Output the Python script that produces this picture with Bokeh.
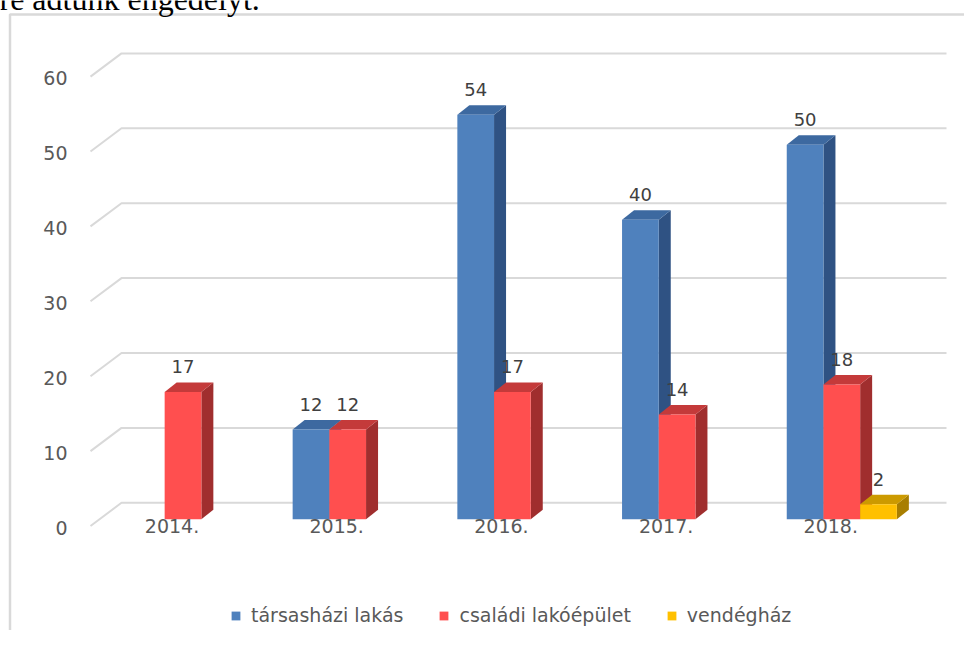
from bokeh.plotting import figure
from bokeh.models import (LinearAxis, FixedTicker, Range1d, Legend, LegendItem,
                          ColumnDataSource)
from bokeh.core.properties import value
from bokeh.embed import file_html
from bokeh.resources import INLINE

# ---------------- data ----------------
years = ["2014.", "2015.", "2016.", "2017.", "2018."]
series_names = ["társasházi lakás", "családi lakóépület", "vendégház"]
tarsashazi = [0, 12, 54, 40, 50]
csaladi = [17, 12, 17, 14, 18]
vendeghaz = [0, 0, 0, 0, 2]
y_ticks = [0, 10, 20, 30, 40, 50, 60]
heading = "re adtunk engedélyt."

# ---------------- geometry (pixels) ----------------
W, H = 964, 630
PX_X = 164.7      # px per category step
PX_Y = 7.49       # px per value unit
X0 = 171.5        # canvas x of first category
Y0 = 518.8        # canvas y of value 0 (bar plane)


def cx2d(cx):
    return (cx - X0) / PX_X


def cy2d(cy):
    return (Y0 - cy) / PX_Y


x_range = Range1d(cx2d(0), cx2d(W))
y_range = Range1d(cy2d(H), cy2d(0))

p = figure(width=W, height=H, x_range=x_range, y_range=y_range,
           x_axis_type=None, y_axis_type=None, toolbar_location=None,
           output_backend="svg", min_border=0, outline_line_color=None,
           background_fill_color="white", border_fill_color="white")

# outer frame of the chart object (left and top edges)
xl = cx2d(9.5)
yt = cy2d(14)
p.line([xl, xl, x_range.end + 1], [y_range.start - 1, yt, yt],
       line_color="#d9d9d9", line_width=2.5)

# clipped heading text of the document
p.text(x=[cx2d(-1)], y=[cy2d(-2)], text=[heading],
       text_font=value("Liberation Serif"), text_font_size="32px",
       text_color="#000000", text_baseline="alphabetic", text_align="left")

# 3D gridlines: diagonal on the side wall + horizontal on back wall
gx_front = cx2d(90)
gx_back = cx2d(121)
gx_end = cx2d(946)
front_off = -6.7 / PX_Y
back_off = 16.5 / PX_Y
p.multi_line(xs=[[gx_front, gx_back, gx_end] for t in y_ticks],
             ys=[[t + front_off, t + back_off, t + back_off] for t in y_ticks],
             line_color="#d9d9d9", line_width=2)

# ---------------- 3D bars ----------------
bar_w = 36.7 / PX_X
ddx = 12 / PX_X
ddy = 9.5 / PX_Y
offsets = [-25.7 / PX_X, 11 / PX_X, 47.7 / PX_X]
front_cols = ["#4F81BD", "#FF4F4F", "#FFC000"]
top_cols = ["#3D69A0", "#C43A3A", "#CC9A00"]
side_cols = ["#2F5283", "#A02E2E", "#A87E00"]
series_vals = [tarsashazi, csaladi, vendeghaz]

front_renderers = []
for s, vals in enumerate(series_vals):
    xc, tops, labels = [], [], []
    side_xs, side_ys, top_xs, top_ys = [], [], [], []
    for i, v in enumerate(vals):
        if v <= 0:
            continue
        c = i + offsets[s]
        L, R = c - bar_w / 2, c + bar_w / 2
        xc.append(c)
        tops.append(v)
        labels.append(str(v))
        side_xs.append([R, R + ddx, R + ddx, R])
        side_ys.append([0, ddy, v + ddy, v])
        top_xs.append([L, R, R + ddx, L + ddx])
        top_ys.append([v, v, v + ddy, v + ddy])
    p.patches(side_xs, side_ys, fill_color=side_cols[s], line_color=None)
    p.patches(top_xs, top_ys, fill_color=top_cols[s], line_color=None)
    src = ColumnDataSource(dict(x=xc, top=tops, lab=labels))
    r = p.vbar(x="x", top="top", bottom=0, width=bar_w, source=src,
               fill_color=front_cols[s], line_color=None)
    front_renderers.append(r)
    p.text(x="x", y="top", text="lab", source=src, y_offset=-25,
           text_align="center", text_baseline="middle",
           text_font=value("DejaVu Sans"), text_font_size="18px",
           text_color="#404040")

# ---------------- axes ----------------
p.extra_y_ranges = {"ylab": Range1d(y_range.start + 8.5 / PX_Y,
                                    y_range.end + 8.5 / PX_Y)}
yaxis = LinearAxis(y_range_name="ylab", fixed_location=cx2d(70),
                   ticker=FixedTicker(ticks=y_ticks),
                   axis_line_color=None, major_tick_line_color=None,
                   minor_tick_line_color=None, major_tick_out=0,
                   major_tick_in=0, major_label_standoff=3,
                   major_label_text_font="DejaVu Sans",
                   major_label_text_font_size="19px",
                   major_label_text_color="#595959")
p.add_layout(yaxis, "left")

xaxis = LinearAxis(fixed_location=cy2d(518),
                   ticker=FixedTicker(ticks=list(range(len(years)))),
                   major_label_overrides={i: y for i, y in enumerate(years)},
                   axis_line_color=None, major_tick_line_color=None,
                   minor_tick_line_color=None, major_tick_out=0,
                   major_tick_in=0, major_label_standoff=0,
                   major_label_text_font="DejaVu Sans",
                   major_label_text_font_size="19px",
                   major_label_text_color="#595959")
p.add_layout(xaxis, "below")

# ---------------- legend ----------------
legend = Legend(items=[LegendItem(label=n, renderers=[r])
                       for n, r in zip(series_names, front_renderers)],
                orientation="horizontal", location=(230, 4),
                glyph_width=11, glyph_height=11, label_standoff=10,
                spacing=35, padding=0, margin=0, border_line_color=None,
                background_fill_alpha=0, label_text_font="DejaVu Sans",
                label_text_font_size="19px", label_text_color="#595959")
p.add_layout(legend)

open("out.html", "w").write(file_html(p, INLINE))
